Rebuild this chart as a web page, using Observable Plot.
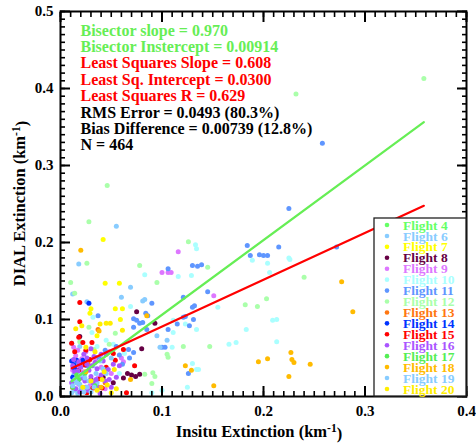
<!DOCTYPE html>
<html><head><meta charset="utf-8">
<script src="https://cdn.jsdelivr.net/npm/d3@7"></script>
<script src="https://cdn.jsdelivr.net/npm/@observablehq/plot@0.6"></script>
<style>
body{margin:0;background:#fff}
svg{font-family:"Liberation Serif","Times New Roman",serif;font-weight:bold}
</style>
</head><body><div id="chart"></div>
<script>
const flights = ["Flight 4","Flight 6","Flight 7","Flight 8","Flight 9","Flight 10","Flight 11","Flight 12","Flight 13","Flight 14","Flight 15","Flight 16","Flight 17","Flight 18","Flight 19","Flight 20"];
const colors = ["#66ff66","#88ccff","#ffff00","#660044","#dd77ff","#aaffff","#5f96ff","#aaffaa","#ff7711","#0033ff","#ff0000","#aa55ff","#55ee55","#ffbb00","#88ccff","#ffee00"];

const f4 = [[0.013,0.020],[0.022,0.025],[0.031,0.012],[0.028,0.040]];
const f6 = [[0.018,0.172],[0.012,0.133],[0.055,0.221],[0.026,0.123],[0.069,0.142],[0.060,0.129],[0.011,0.069],[0.019,0.065],[0.027,0.048],[0.032,0.040],[0.011,0.005],[0.014,0.008],[0.017,0.004],[0.020,0.010],[0.013,0.028],[0.036,0.018]];
const f7 = [[0.042,0.204],[0.044,0.147],[0.058,0.147],[0.054,0.114],[0.061,0.114],[0.030,0.114],[0.029,0.108],[0.059,0.100],[0.036,0.079]];
const f8 = [[0.075,0.110],[0.093,0.095],[0.080,0.062],[0.019,0.078],[0.041,0.047],[0.042,0.025],[0.070,0.028],[0.074,0.026],[0.078,0.029],[0.066,0.030],[0.030,0.022],[0.052,0.018],[0.035,0.050],[0.062,0.024]];
const f9 = [[0.100,0.161],[0.106,0.161],[0.109,0.161],[0.116,0.188],[0.151,0.131],[0.017,0.060],[0.015,0.053],[0.013,0.064],[0.021,0.049],[0.025,0.058],[0.035,0.048],[0.040,0.038],[0.048,0.058],[0.060,0.050],[0.062,0.045],[0.018,0.016],[0.029,0.014],[0.037,0.024],[0.012,0.034],[0.016,0.039],[0.023,0.032],[0.044,0.010],[0.050,0.030]];
const f10 = [[0.083,0.158],[0.069,0.117],[0.032,0.103],[0.031,0.083],[0.116,0.156],[0.129,0.157],[0.133,0.197],[0.134,0.192],[0.189,0.177],[0.204,0.173],[0.206,0.161],[0.155,0.116],[0.123,0.094],[0.134,0.087],[0.111,0.099],[0.111,0.083],[0.110,0.064],[0.166,0.068],[0.173,0.070],[0.130,0.043],[0.134,0.035],[0.136,0.035],[0.125,0.012],[0.100,0.008],[0.183,0.087],[0.209,0.099],[0.213,0.100],[0.213,0.071],[0.225,0.180],[0.226,0.178],[0.036,0.065],[0.045,0.073],[0.052,0.068],[0.058,0.030],[0.063,0.056],[0.090,0.005]];
const f11 = [[0.106,0.166],[0.184,0.196],[0.187,0.183],[0.196,0.184],[0.200,0.183],[0.204,0.183],[0.130,0.170],[0.135,0.169],[0.139,0.171],[0.145,0.136],[0.121,0.129],[0.130,0.116],[0.132,0.118],[0.121,0.103],[0.123,0.104],[0.131,0.100],[0.127,0.092],[0.115,0.094],[0.106,0.087],[0.100,0.064],[0.103,0.064],[0.126,0.030],[0.258,0.329],[0.225,0.244],[0.215,0.194],[0.272,0.194],[0.090,0.121],[0.037,0.105],[0.086,0.105],[0.081,0.096],[0.085,0.087],[0.072,0.101],[0.075,0.099],[0.078,0.095],[0.084,0.108],[0.072,0.090],[0.067,0.061],[0.072,0.057],[0.015,0.044],[0.026,0.040],[0.038,0.050],[0.044,0.060],[0.055,0.065],[0.058,0.054],[0.061,0.042],[0.068,0.050]];
const f12 = [[0.046,0.274],[0.028,0.227],[0.026,0.173],[0.078,0.170],[0.010,0.148],[0.014,0.134],[0.095,0.148],[0.126,0.201],[0.145,0.168],[0.182,0.119],[0.194,0.117],[0.203,0.127],[0.121,0.065],[0.147,0.065],[0.232,0.393],[0.358,0.413],[0.240,0.155],[0.105,0.055],[0.106,0.051],[0.028,0.090],[0.054,0.082],[0.083,0.029],[0.091,0.031],[0.019,0.071],[0.033,0.061],[0.048,0.068],[0.093,0.026],[0.090,0.017]];
const f13 = [[0.037,0.087],[0.016,0.024],[0.027,0.044],[0.044,0.018]];
const f14 = [[0.028,0.121],[0.011,0.046],[0.013,0.041],[0.016,0.047],[0.019,0.043],[0.022,0.047],[0.014,0.036],[0.012,0.025],[0.017,0.021]];
const f15 = [[0.019,0.122],[0.019,0.097],[0.018,0.077],[0.022,0.070],[0.025,0.060],[0.011,0.069],[0.052,0.056],[0.054,0.047],[0.062,0.061],[0.073,0.040],[0.065,0.005],[0.032,0.011],[0.039,0.023],[0.014,0.058],[0.018,0.034],[0.029,0.048],[0.045,0.038],[0.041,0.011],[0.012,0.012],[0.026,0.005],[0.031,0.070],[0.024,0.041]];
const f16 = [[0.012,0.040],[0.014,0.032],[0.016,0.026],[0.018,0.045],[0.020,0.038],[0.022,0.030],[0.024,0.020],[0.026,0.042],[0.028,0.034],[0.030,0.026],[0.032,0.018],[0.034,0.044],[0.036,0.036],[0.038,0.012],[0.040,0.028],[0.042,0.046],[0.044,0.020],[0.047,0.035],[0.050,0.012],[0.052,0.042],[0.015,0.010],[0.019,0.006],[0.027,0.008],[0.033,0.052],[0.045,0.055],[0.055,0.025],[0.058,0.040],[0.011,0.018],[0.023,0.055],[0.030,0.062],[0.017,0.033],[0.021,0.024],[0.025,0.012],[0.035,0.022],[0.039,0.004],[0.048,0.022],[0.013,0.048],[0.026,0.050],[0.031,0.040],[0.040,0.055]];
const f17 = [[0.012,0.012],[0.018,0.022],[0.024,0.030],[0.034,0.014],[0.016,0.028]];
const f18 = [[0.020,0.190],[0.085,0.105],[0.069,0.022],[0.123,0.040],[0.129,0.034],[0.151,0.014],[0.195,0.045],[0.204,0.049],[0.277,0.149],[0.288,0.110],[0.227,0.057],[0.228,0.048],[0.230,0.044],[0.246,0.042],[0.225,0.026],[0.038,0.085],[0.040,0.012],[0.025,0.032]];
const f19 = [[0.083,0.126],[0.081,0.124],[0.095,0.079],[0.105,0.073],[0.098,0.064],[0.023,0.006],[0.026,0.012],[0.012,0.014],[0.016,0.018],[0.030,0.006],[0.035,0.030],[0.024,0.024],[0.039,0.046],[0.045,0.030],[0.050,0.050],[0.020,0.028],[0.028,0.020],[0.042,0.036],[0.014,0.022],[0.019,0.016],[0.033,0.012]];
const f20 = [[0.039,0.094],[0.045,0.095],[0.049,0.095],[0.061,0.086],[0.022,0.012],[0.030,0.020],[0.036,0.008],[0.041,0.022],[0.046,0.015],[0.050,0.005],[0.055,0.010],[0.043,0.032],[0.053,0.035],[0.034,0.058],[0.025,0.064],[0.021,0.092],[0.015,0.088]];
const series = [f4,f6,f7,f8,f9,f10,f11,f12,f13,f14,f15,f16,f17,f18,f19,f20];

const fits = [
  {name:"Bisector", slope:0.970, intercept:0.00914, color:"#66ee55"},
  {name:"Least Squares", slope:0.608, intercept:0.0300, color:"#ff0000"}
];
const fitXRange = [0.011, 0.358];

const stats = [
  {text:"Bisector slope = 0.970", color:"#66ee55"},
  {text:"Bisector Instercept = 0.00914", color:"#66ee55"},
  {text:"Least Squares Slope = 0.608", color:"#ff0000"},
  {text:"Least Sq. Intercept = 0.0300", color:"#ff0000"},
  {text:"Least Squares R = 0.629", color:"#ff0000"},
  {text:"RMS Error = 0.0493 (80.3%)", color:"#000000"},
  {text:"Bias Difference = 0.00739 (12.8%)", color:"#000000"},
  {text:"N = 464", color:"#000000"}
];
const xMajor = [0,0.1,0.2,0.3,0.4];
const yMajor = [0,0.1,0.2,0.3,0.4,0.5];
const xMinor = d3.range(0, 41).map(i => i/100);
const yMinor = d3.range(0, 51).map(i => i/100);

const rows = [];
series.forEach((s, i) => s.forEach(([x, y]) => rows.push({x, y, flight: flights[i]})));
const lineRows = fits.flatMap(f => fitXRange.map(x => ({x, y: f.slope*x + f.intercept, name: f.name})));

const fs = 15;
const tickMarks = [];
for (const a of ["left","right"]) {
  tickMarks.push(Plot.axisY(yMinor, {anchor:a, tickSize:-5, text:null, label:null, strokeWidth:1.6}));
  tickMarks.push(Plot.axisY(yMajor, {anchor:a, tickSize:-10, text:null, label:null, strokeWidth:2}));
}
for (const a of ["top","bottom"]) {
  tickMarks.push(Plot.axisX(xMinor, {anchor:a, tickSize:-5, text:null, label:null, strokeWidth:1.6}));
  tickMarks.push(Plot.axisX(xMajor, {anchor:a, tickSize:-10, text:null, label:null, strokeWidth:2}));
}

const plot = Plot.plot({
  width: 476, height: 444,
  marginLeft: 60, marginRight: 10, marginTop: 11, marginBottom: 48,
  style: {fontFamily: '"Liberation Serif", serif', background: "#fff", overflow: "visible"},
  x: {domain: [0, 0.4]},
  y: {domain: [0, 0.5]},
  color: {domain: flights, range: colors},
  marks: [
    Plot.dot(rows, {x:"x", y:"y", fill:"flight", r:2.5}),
    Plot.line(lineRows.filter(d => d.name === "Bisector"), {x:"x", y:"y", stroke: fits[0].color, strokeWidth: 2.2}),
    Plot.line(lineRows.filter(d => d.name === "Least Squares"), {x:"x", y:"y", stroke: fits[1].color, strokeWidth: 2.2}),
    ...stats.map((s, i) => Plot.text([s.text], {frameAnchor:"top-left", dx:20, dy:19 + i*16.4, text: d => d, fill: s.color, fontSize: 16, fontWeight: "bold", textAnchor:"start", lineAnchor:"middle"})),
    ...tickMarks,
    Plot.axisY(yMajor, {anchor:"left", tickSize:0, tickPadding:7, label:null, tickFormat: d3.format(".1f"), fontSize: fs, fontWeight:"bold", fill:"#000"}),
    Plot.axisX(xMajor, {anchor:"bottom", tickSize:0, tickPadding:9, label:null, tickFormat: d3.format(".1f"), fontSize: fs, fontWeight:"bold", fill:"#000"}),
    Plot.frame({stroke:"#000", strokeWidth:2})
  ]
});
document.getElementById("chart").appendChild(plot);

// axis titles with superscript and legend
const svg = d3.select(plot);
const xs = plot.scale("x"), ys = plot.scale("y");
const x0 = xs.range[0], x1 = xs.range[1], yTop = ys.range[1], yBot = ys.range[0];

function title(g, label) {
  g.append("tspan").text(label + " (km");
  g.append("tspan").attr("dy", "-0.45em").attr("font-size", "70%").text("-1");
  g.append("tspan").attr("dy", "0.45em").text(")");
}
const xt = svg.append("text").attr("x", (x0 + x1) / 2 - 4).attr("y", yBot + 41)
  .attr("text-anchor", "middle").attr("font-size", 16.5).attr("font-weight", "bold").attr("fill", "#000");
title(xt, "Insitu Extinction");
const yt = svg.append("text").attr("transform", `translate(25,${(yTop + yBot) / 2}) rotate(-90)`)
  .attr("text-anchor", "middle").attr("font-size", 16.5).attr("font-weight", "bold").attr("fill", "#000");
title(yt, "DIAL Extinction");

const legW = 92, legH = 178;
const lg = svg.append("g").attr("transform", `translate(${x1 - legW},${yBot - legH})`);
lg.append("rect").attr("width", legW).attr("height", legH).attr("fill", "#fff").attr("stroke", "#222").attr("stroke-width", 1.3);
flights.forEach((f, i) => {
  const yy = 7 + i * 10.93;
  lg.append("circle").attr("cx", 13).attr("cy", yy).attr("r", 2.3).attr("fill", colors[i]);
  lg.append("text").attr("x", 29).attr("y", yy).attr("dy", "0.34em").attr("font-size", 13.5)
    .attr("text-anchor", "start").attr("font-weight", "bold").attr("fill", colors[i]).text(f);
});
</script>
</body></html>
